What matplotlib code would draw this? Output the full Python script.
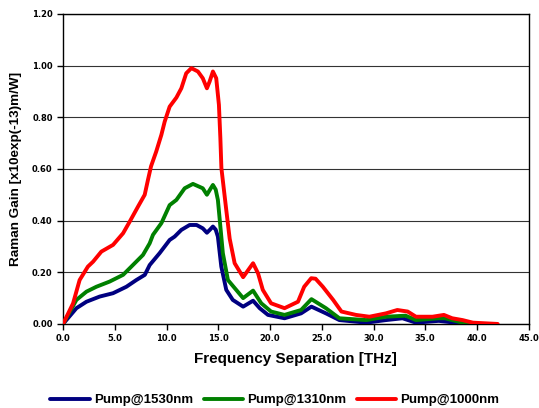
import matplotlib
matplotlib.use('Agg')
import matplotlib.pyplot as plt
import numpy as np

plt.rcParams['font.family'] = ['Liberation Sans', 'DejaVu Sans']
plt.rcParams['font.weight'] = 'bold'

# Raman gain spectra for three pump wavelengths
freq_1530 = [0.0, 1.29, 2.26, 3.54, 4.83, 6.12, 7.08, 7.9, 8.37, 9.33, 10.3, 10.78, 11.43, 12.23,
             12.9, 13.5, 13.9, 14.2, 14.48, 14.75, 14.96, 15.29, 15.77, 16.4, 17.4, 18.36, 19.0,
             19.8, 21.4, 23.0, 24.0, 25.4, 26.7, 29.3, 31.2, 32.8, 34.1, 36.3, 38.3, 38.9]
gain_1530 = [0.0, 0.061, 0.086, 0.106, 0.119, 0.144, 0.17, 0.19, 0.228, 0.274, 0.325, 0.338, 0.364, 0.383,
             0.383, 0.37, 0.353, 0.365, 0.377, 0.365, 0.338, 0.222, 0.132, 0.093, 0.067, 0.09, 0.061,
             0.035, 0.022, 0.041, 0.067, 0.041, 0.015, 0.005, 0.015, 0.022, 0.005, 0.012, 0.003, 0.0]

freq_1310 = [0.0, 1.29, 2.26, 3.22, 4.5, 5.8, 6.6, 7.72, 8.37, 8.69, 9.5, 10.3, 10.95, 11.75, 12.55,
             13.5, 13.9, 14.2, 14.48, 14.75, 14.96, 15.44, 15.93, 17.4, 18.36, 19.15, 20.1, 21.4,
             23.0, 24.0, 25.4, 26.7, 29.3, 31.2, 33.1, 34.1, 36.3, 36.9, 38.6, 39.2]
gain_1310 = [0.0, 0.093, 0.125, 0.144, 0.164, 0.19, 0.222, 0.267, 0.312, 0.345, 0.39, 0.46, 0.48, 0.525, 0.542,
             0.525, 0.50, 0.52, 0.538, 0.52, 0.48, 0.274, 0.17, 0.10, 0.129, 0.08, 0.048, 0.035,
             0.054, 0.096, 0.061, 0.022, 0.015, 0.028, 0.032, 0.015, 0.022, 0.022, 0.005, 0.0]

freq_1000 = [0.0, 0.97, 1.6, 2.4, 2.9, 3.7, 4.83, 5.8, 6.44, 7.24, 7.89, 8.2, 8.5, 9.0, 9.5, 9.82,
             10.3, 10.95, 11.43, 11.9, 12.4, 13.03, 13.5, 13.9, 14.16, 14.48, 14.8, 15.06, 15.2,
             15.3, 15.77, 16.1, 16.58, 17.4, 18.36, 18.84, 19.3, 20.1, 21.4, 22.7, 23.3, 23.98,
             24.4, 25.1, 26.1, 26.9, 28.3, 29.6, 31.2, 32.3, 33.3, 34.1, 35.7, 36.8, 37.6, 38.6,
             39.6, 42.0]
gain_1000 = [0.0, 0.08, 0.17, 0.222, 0.241, 0.28, 0.306, 0.351, 0.396, 0.454, 0.50, 0.557, 0.61, 0.667, 0.732, 0.783,
             0.841, 0.876, 0.912, 0.97, 0.99, 0.977, 0.951, 0.912, 0.938, 0.977, 0.951, 0.848, 0.719,
             0.603, 0.441, 0.33, 0.235, 0.181, 0.235, 0.196, 0.132, 0.08, 0.061, 0.086, 0.144, 0.177,
             0.175, 0.144, 0.093, 0.048, 0.035, 0.028, 0.041, 0.054, 0.048, 0.028, 0.028, 0.035, 0.022, 0.015,
             0.005, 0.0]

labels = ['Pump@1530nm', 'Pump@1310nm', 'Pump@1000nm']
colors = ['#000080', '#008000', '#ff0000']

fig = plt.figure(figsize=(5.39, 4.08), dpi=100)
ax = fig.add_axes([0.117, 0.206, 0.864, 0.760])

series = [(freq_1530, gain_1530), (freq_1310, gain_1310), (freq_1000, gain_1000)]
for (f, g), lab, c in zip(series, labels, colors):
    ax.plot(f, g, color=c, lw=2.8, label=lab, solid_joinstyle='round',
            solid_capstyle='round', zorder=3)

xt = np.arange(0, 46, 5)
yt = np.arange(0, 1.21, 0.2)
ax.set_xlim(0, 45)
ax.set_ylim(0, 1.2)
ax.set_xticks(xt)
ax.set_yticks(yt)
ax.set_xticklabels([f'{v:.1f}' for v in xt], family='DejaVu Sans')
ax.set_yticklabels([f'{v:.2f}' for v in yt], family='DejaVu Sans')
ax.tick_params(labelsize=6, length=4, width=1, direction='out')
ax.grid(True, axis='y', color='#333333', lw=0.8, zorder=0)
for s in ax.spines.values():
    s.set_linewidth(1.0)

ax.set_xlabel('Frequency Separation [THz]', fontsize=11, fontweight='bold', labelpad=6)
ax.set_ylabel('Raman Gain [x10exp(-13)m/W]', fontsize=9.7, fontweight='bold', labelpad=7)

fig.legend(loc='lower center', bbox_to_anchor=(0.51, -0.025), ncol=3, frameon=False,
           fontsize=9.5, handlelength=3, handletextpad=0.3, columnspacing=0.8)

plt.savefig('out.png', dpi=100)
